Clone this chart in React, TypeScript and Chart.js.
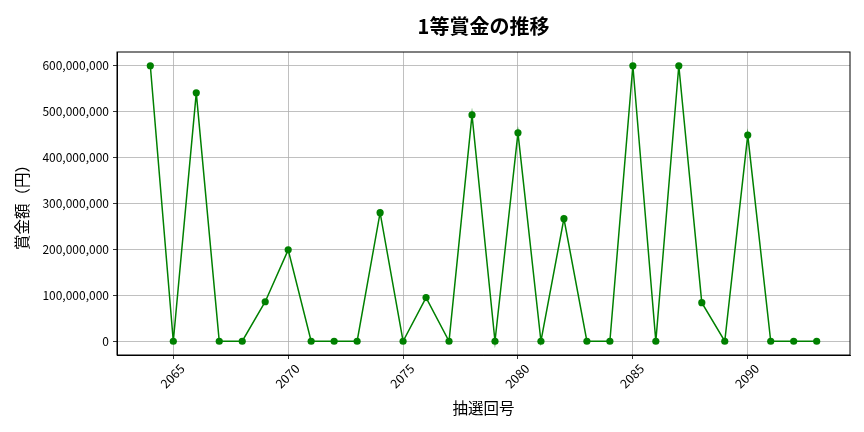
import React, { useEffect, useRef } from "react";
import { Chart, registerables } from "chart.js";

Chart.register(...registerables);

const drawNumbers: number[] = [
  2064, 2065, 2066, 2067, 2068, 2069, 2070, 2071, 2072, 2073,
  2074, 2075, 2076, 2077, 2078, 2079, 2080, 2081, 2082, 2083,
  2084, 2085, 2086, 2087, 2088, 2089, 2090, 2091, 2092, 2093,
];
const prizeValues: number[] = [
  600000000, 0, 541000000, 0, 0, 86000000, 199000000, 0, 0, 0,
  280000000, 0, 95000000, 0, 493000000, 0, 454000000, 0, 267000000, 0,
  0, 600000000, 0, 600000000, 84000000, 0, 449000000, 0, 0, 0,
];
const xTickValues: number[] = [2065, 2070, 2075, 2080, 2085, 2090];
const yTickValues: number[] = [0, 100000000, 200000000, 300000000, 400000000, 500000000, 600000000];

const titleText = "1等賞金の推移";
const xTitle = "抽選回号";
const yTitle = "賞金額（円）";

const FONT = "'Noto Sans CJK JP', 'Noto Sans', sans-serif";

export default function App() {
  const ref = useRef<HTMLCanvasElement>(null);
  useEffect(() => {
    document.body.style.margin = "0";
    const ctx = ref.current!;
    const chart = new Chart(ctx, {
      type: "line",
      data: {
        datasets: [
          {
            data: drawNumbers.map((x, i) => ({ x, y: prizeValues[i] })),
            borderColor: "#008000",
            backgroundColor: "#008000",
            borderWidth: 1.5,
            pointRadius: 3.6,
            pointBorderWidth: 0,
            pointBackgroundColor: "#008000",
            tension: 0,
          },
        ],
      },
      options: {
        animation: false,
        responsive: false,
        devicePixelRatio: 1,
        layout: { padding: { left: 0, right: 14, top: 0, bottom: 0 } },
        plugins: {
          legend: { display: false },
          tooltip: { enabled: false },
          title: {
            display: true,
            text: titleText,
            fullSize: false,
            color: "#000",
            font: { family: FONT, size: 20, weight: "bold" },
            padding: { top: 14, bottom: 14 },
          },
        },
        scales: {
          x: {
            type: "linear",
            min: 2062.55,
            max: 2094.45,
            afterBuildTicks: (s: any) => {
              s.ticks = xTickValues.map((v) => ({ value: v }));
            },
            afterFit: (s: any) => {
              s.height = 77;
            },
            ticks: {
              minRotation: 45,
              maxRotation: 45,
              labelOffset: 9,
              padding: 2,
              color: "#000",
              font: { family: FONT, size: 12.5 },
              callback: (v: any) => String(v),
            },
            grid: {
              color: "#b0b0b0",
              lineWidth: 0.8,
              drawTicks: true,
              tickLength: 4,
              tickColor: "#000",
            },
            border: { color: "#000", width: 1 },
            title: {
              display: true,
              text: xTitle,
              color: "#000",
              font: { family: FONT, size: 15.5 },
              padding: { top: 0, bottom: 15 },
            },
          },
          y: {
            type: "linear",
            min: -30000000,
            max: 630000000,
            afterBuildTicks: (s: any) => {
              s.ticks = yTickValues.map((v) => ({ value: v }));
            },
            afterFit: (s: any) => {
              s.width = 117;
            },
            ticks: {
              padding: 4,
              color: "#000",
              font: { family: FONT, size: 12 },
              callback: (v: any) => Number(v).toLocaleString("en-US"),
            },
            grid: {
              color: "#b0b0b0",
              lineWidth: 0.8,
              drawTicks: true,
              tickLength: 4,
              tickColor: "#000",
            },
            border: { color: "#000", width: 1 },
            title: {
              display: true,
              text: yTitle,
              color: "#000",
              font: { family: FONT, size: 15.5 },
              padding: { top: 13, bottom: 0 },
            },
          },
        },
      },
      plugins: [
        {
          id: "frame",
          afterDraw: (c: any) => {
            const { left, right, top, bottom } = c.chartArea;
            const g = c.ctx;
            g.save();
            g.strokeStyle = "#000";
            g.lineWidth = 1;
            g.strokeRect(left, top, right - left, bottom - top);
            g.restore();
          },
        },
      ],
    } as any);
    return () => chart.destroy();
  }, []);
  return (
    <div style={{ position: "absolute", left: 0, top: 0, width: 864, height: 432, background: "#fff" }}>
      <canvas ref={ref} width={864} height={432} />
    </div>
  );
}
